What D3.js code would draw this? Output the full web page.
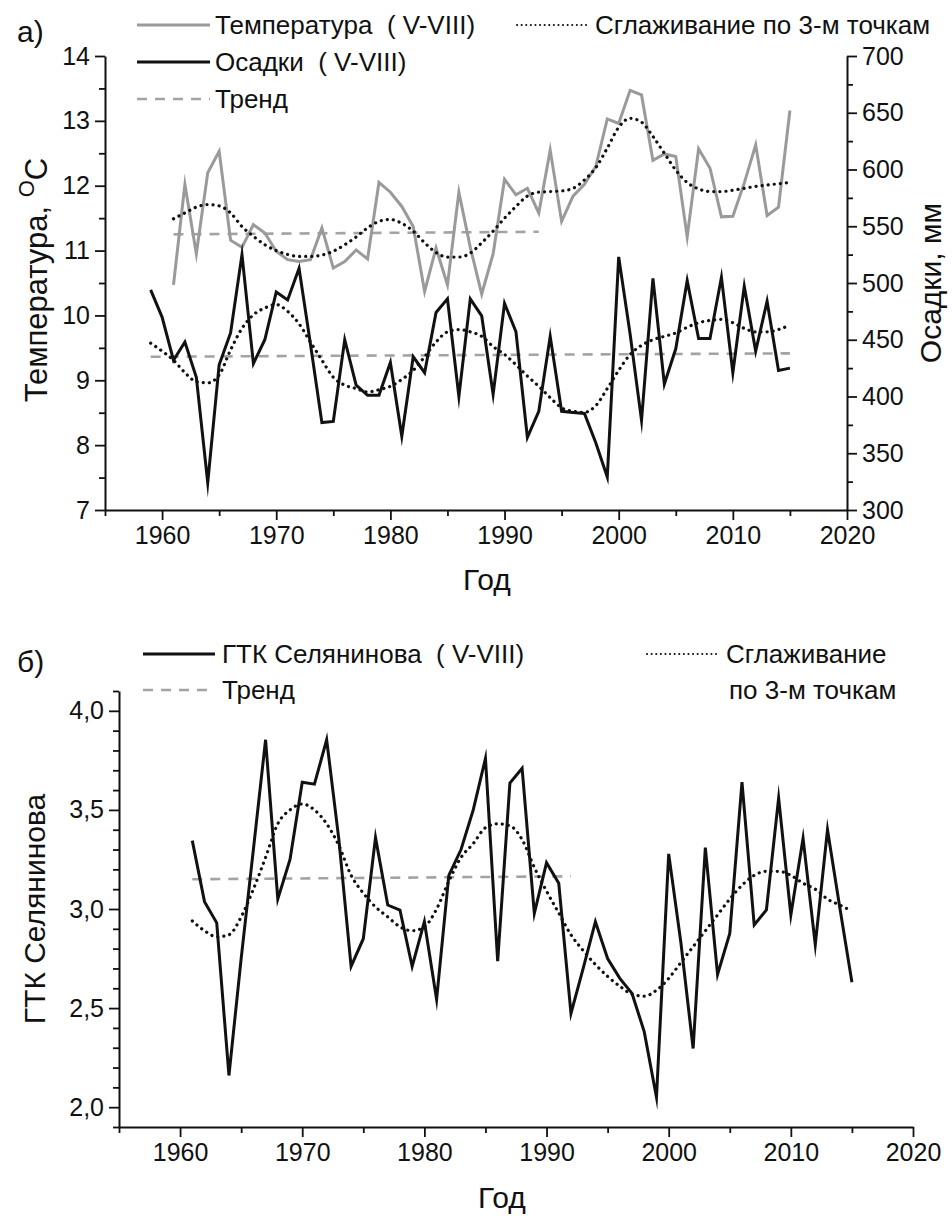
<!DOCTYPE html>
<html><head><meta charset="utf-8">
<script src="https://cdn.jsdelivr.net/npm/d3@7"></script>
<style>
body{margin:0;background:#fff}
text{font-family:"Liberation Sans",Arial,sans-serif;fill:#111}
</style>
</head><body>
<svg id="c" width="952" height="1218"></svg>
<script>
// ---------- DATA ----------
const tempStart = 1961;
const tempValues = [10.47,12.02,10.95,12.2,12.53,11.16,11.05,11.4,11.27,10.99,10.86,10.83,10.86,11.35,10.73,10.83,11.01,10.87,12.05,11.9,11.68,11.37,10.37,11.04,10.47,11.9,11.05,10.33,10.95,12.1,11.86,11.96,11.58,12.55,11.45,11.84,12.02,12.3,13.03,12.96,13.47,13.4,12.39,12.49,12.45,11.21,12.57,12.27,11.52,11.53,12.04,12.63,11.54,11.67,13.16];
const tempSmooth = [11.49,11.58,11.67,11.71,11.69,11.58,11.37,11.22,11.09,11.0,10.94,10.91,10.91,10.93,10.99,11.09,11.21,11.35,11.45,11.48,11.42,11.3,11.12,10.97,10.9,10.9,10.96,11.12,11.3,11.5,11.68,11.84,11.9,11.91,11.92,11.96,12.09,12.28,12.58,12.9,13.04,12.98,12.76,12.5,12.24,12.05,11.95,11.91,11.91,11.93,11.96,11.99,12.01,12.03,12.05];
const tempTrendYears = [1961, 1993];
const tempTrendValues = [11.25, 11.29];

const precStart = 1959;
const precValues = [494,470,432,448,417,324,428,456,525,429,450,492,485,513,446,377,378,450,410,401,401,430,365,435,421,474,486,400,486,471,402,482,457,364,387,453,387,386,385,359,329,523,455,379,504,411,442,502,451,451,505,421,497,440,484,423,425];
const precSmooth = [447,440,432,421,413,412,419,441,460,472,478,481,475,464,448,432,417,410,407,404,406,409,415,423,435,448,457,459,457,453,444,437,428,418,409,399,390,387,386,392,407,423,437,445,450,453,456,461,465,467,468,465,460,457,457,459,463];
const precTrendYears = [1959, 2015];
const precTrendValues = [435, 438];

const gtkStart = 1961;
const gtkValues = [3.345,3.037,2.93,2.16,2.75,3.3,3.854,3.05,3.25,3.64,3.63,3.854,3.35,2.71,2.85,3.36,3.02,2.995,2.71,2.936,2.544,3.17,3.30,3.5,3.76,2.737,3.635,3.71,2.978,3.234,3.13,2.473,2.70,2.936,2.75,2.65,2.574,2.38,2.05,3.278,2.83,2.296,3.31,2.67,2.877,3.64,2.92,2.995,3.56,2.97,3.357,2.82,3.40,3.01,2.63];
const gtkSmooth = [2.94,2.89,2.86,2.87,2.96,3.10,3.26,3.43,3.50,3.53,3.50,3.43,3.32,3.17,3.08,3.01,2.96,2.91,2.89,2.91,3.00,3.14,3.26,3.33,3.41,3.43,3.42,3.35,3.21,3.09,2.98,2.87,2.79,2.72,2.66,2.61,2.57,2.56,2.59,2.65,2.73,2.81,2.89,2.97,3.05,3.12,3.17,3.19,3.19,3.17,3.13,3.10,3.05,3.02,2.99];
const gtkTrendYears = [1961, 1992];
const gtkTrendValues = [3.15, 3.165];

const xMajor = [1960,1970,1980,1990,2000,2010,2020];
const xMinor = [1955,1965,1975,1985,1995,2005,2015];
const tempMajor = [7,8,9,10,11,12,13,14];
const tempMinor = [7.5,8.5,9.5,10.5,11.5,12.5,13.5];
const precMajor = [300,350,400,450,500,550,600,650,700];
const precMinor = [325,375,425,475,525,575,625,675];
const gtkMajor = [2.0,2.5,3.0,3.5,4.0];
const gtkMinor = [1.9,2.1,2.2,2.3,2.4,2.6,2.7,2.8,2.9,3.1,3.2,3.3,3.4,3.6,3.7,3.8,3.9,4.1];

// ---------- HELPERS ----------
const toPts = (start, arr) => arr.map((v,i)=>({year:start+i, v}));
const svg = d3.select('#c');
const GRAY = '#9a9a9a', TREND = '#a3a3a3', BLACK = '#111';
const FS = 25;

function styleAxis(g){
  g.select('.domain').attr('stroke', BLACK).attr('stroke-width', 2);
  g.selectAll('.tick line').attr('stroke', BLACK).attr('stroke-width', 1.8);
  g.selectAll('.tick text').attr('font-size', FS).attr('fill', BLACK)
    .style('font-family','"Liberation Sans",Arial,sans-serif');
}
function addAxis(parent, axisMaj, axisMin, tx, ty){
  const gMin = parent.append('g').attr('transform',`translate(${tx},${ty})`).call(axisMin);
  gMin.select('.domain').remove();
  gMin.selectAll('.tick line').attr('stroke', BLACK).attr('stroke-width', 1.8);
  const g = parent.append('g').attr('transform',`translate(${tx},${ty})`).call(axisMaj);
  styleAxis(g);
  return g;
}
function drawLine(g, data, x, y, opts){
  const line = d3.line().x(d=>x(d.year)).y(d=>y(d.v));
  if (opts.curve) line.curve(opts.curve);
  g.append('path').datum(data).attr('fill','none')
    .attr('stroke', opts.color).attr('stroke-width', opts.width)
    .attr('stroke-dasharray', opts.dash || null)
    .attr('stroke-linecap', opts.cap || 'butt')
    .attr('stroke-linejoin', 'miter').attr('stroke-miterlimit', 10)
    .attr('d', line);
}
const DOT = {color: BLACK, width: 3.2, dash: '0.1 6', cap: 'round', curve: d3.curveMonotoneX};
const DASH = {color: TREND, width: 2.6, dash: '10 8'};

function legendItem(g, x1, x2, y, opts, label, tx){
  g.append('line').attr('x1',x1).attr('x2',x2).attr('y1',y).attr('y2',y)
    .attr('stroke',opts.color).attr('stroke-width',opts.width)
    .attr('stroke-dasharray',opts.dash||null).attr('stroke-linecap',opts.cap||'butt');
  if (label) g.append('text').attr('x',tx).attr('y',y+9).attr('font-size',26)
    .style('white-space','pre').text(label);
}

// ---------- TOP CHART ----------
const gTop = svg.append('g');
const x1 = d3.scaleLinear().domain([1955,2020]).range([105,847]);
const yT = d3.scaleLinear().domain([7,14]).range([510,56]);
const yP = d3.scaleLinear().domain([300,700]).range([510,56]);

addAxis(gTop, d3.axisBottom(x1).tickValues(xMajor).tickSize(10).tickSizeOuter(0).tickPadding(6).tickFormat(d3.format('d')),
  d3.axisBottom(x1).tickValues(xMinor).tickSize(6).tickFormat(''), 0, 510);
addAxis(gTop, d3.axisLeft(yT).tickValues(tempMajor).tickSize(10).tickSizeOuter(0).tickPadding(5).tickFormat(d3.format('d')),
  d3.axisLeft(yT).tickValues(tempMinor).tickSize(6).tickFormat(''), 105, 0);
addAxis(gTop, d3.axisRight(yP).tickValues(precMajor).tickSize(10).tickSizeOuter(0).tickPadding(5).tickFormat(d3.format('d')),
  d3.axisRight(yP).tickValues(precMinor).tickSize(6).tickFormat(''), 847, 0);

drawLine(gTop, tempTrendYears.map((y,i)=>({year:y, v:tempTrendValues[i]})), x1, yT, DASH);
drawLine(gTop, precTrendYears.map((y,i)=>({year:y, v:precTrendValues[i]})), x1, yP, DASH);
drawLine(gTop, toPts(tempStart,tempValues), x1, yT, {color: GRAY, width: 3});
drawLine(gTop, toPts(precStart,precValues), x1, yP, {color: BLACK, width: 3});
drawLine(gTop, toPts(tempStart,tempSmooth), x1, yT, DOT);
drawLine(gTop, toPts(precStart,precSmooth), x1, yP, DOT);

legendItem(gTop, 137, 210, 25, {color: GRAY, width: 3}, 'Температура  ( V-VIII)', 215);
legendItem(gTop, 137, 210, 62, {color: BLACK, width: 3}, 'Осадки  ( V-VIII)', 215);
legendItem(gTop, 137, 210, 99, DASH, 'Тренд', 215);
legendItem(gTop, 517, 588, 25, {color: BLACK, width: 2, dash:'0.1 4.5', cap:'round'}, 'Сглаживание по 3-м точкам', 595);

gTop.append('text').attr('x',17).attr('y',42).attr('font-size',30).text('а)');
gTop.append('text').attr('x',487).attr('y',590).attr('font-size',30).attr('text-anchor','middle').text('Год');
const ttl = gTop.append('text').attr('transform','translate(47,280) rotate(-90)').attr('text-anchor','middle').attr('font-size',31);
ttl.append('tspan').text('Температура, ');
ttl.append('tspan').attr('font-size',22).attr('dy',-13).text('O');
ttl.append('tspan').attr('dy',13).text('C');
gTop.append('text').attr('transform','translate(941,283) rotate(-90)').attr('text-anchor','middle').attr('font-size',30).text('Осадки, мм');

// ---------- BOTTOM CHART ----------
const gBot = svg.append('g');
const x2 = d3.scaleLinear().domain([1955,2020]).range([119,913]);
const yG = d3.scaleLinear().domain([1.9,4.1]).range([1127,691]);
const commaFmt = d => d3.format('.1f')(d).replace('.', ',');

addAxis(gBot, d3.axisBottom(x2).tickValues(xMajor).tickSize(10).tickSizeOuter(0).tickPadding(6).tickFormat(d3.format('d')),
  d3.axisBottom(x2).tickValues(xMinor).tickSize(6).tickFormat(''), 0, 1127);
addAxis(gBot, d3.axisLeft(yG).tickValues(gtkMajor).tickSize(10).tickSizeOuter(0).tickPadding(5).tickFormat(commaFmt),
  d3.axisLeft(yG).tickValues(gtkMinor).tickSize(6).tickFormat(''), 119, 0);

drawLine(gBot, gtkTrendYears.map((y,i)=>({year:y, v:gtkTrendValues[i]})), x2, yG, DASH);
drawLine(gBot, toPts(gtkStart,gtkValues), x2, yG, {color: BLACK, width: 3});
drawLine(gBot, toPts(gtkStart,gtkSmooth), x2, yG, DOT);

legendItem(gBot, 143, 215, 654, {color: BLACK, width: 3}, 'ГТК Селянинова  ( V-VIII)', 222);
legendItem(gBot, 143, 215, 690, DASH, 'Тренд', 222);
legendItem(gBot, 647, 718, 654, {color: BLACK, width: 2, dash:'0.1 4.5', cap:'round'}, 'Сглаживание', 726);
gBot.append('text').attr('x',729).attr('y',699).attr('font-size',26).text('по 3-м точкам');

gBot.append('text').attr('x',17).attr('y',672).attr('font-size',30).text('б)');
gBot.append('text').attr('x',502).attr('y',1208).attr('font-size',30).attr('text-anchor','middle').text('Год');
gBot.append('text').attr('transform','translate(45,909) rotate(-90)').attr('text-anchor','middle').attr('font-size',30).text('ГТК Селянинова');
</script>
</body></html>
